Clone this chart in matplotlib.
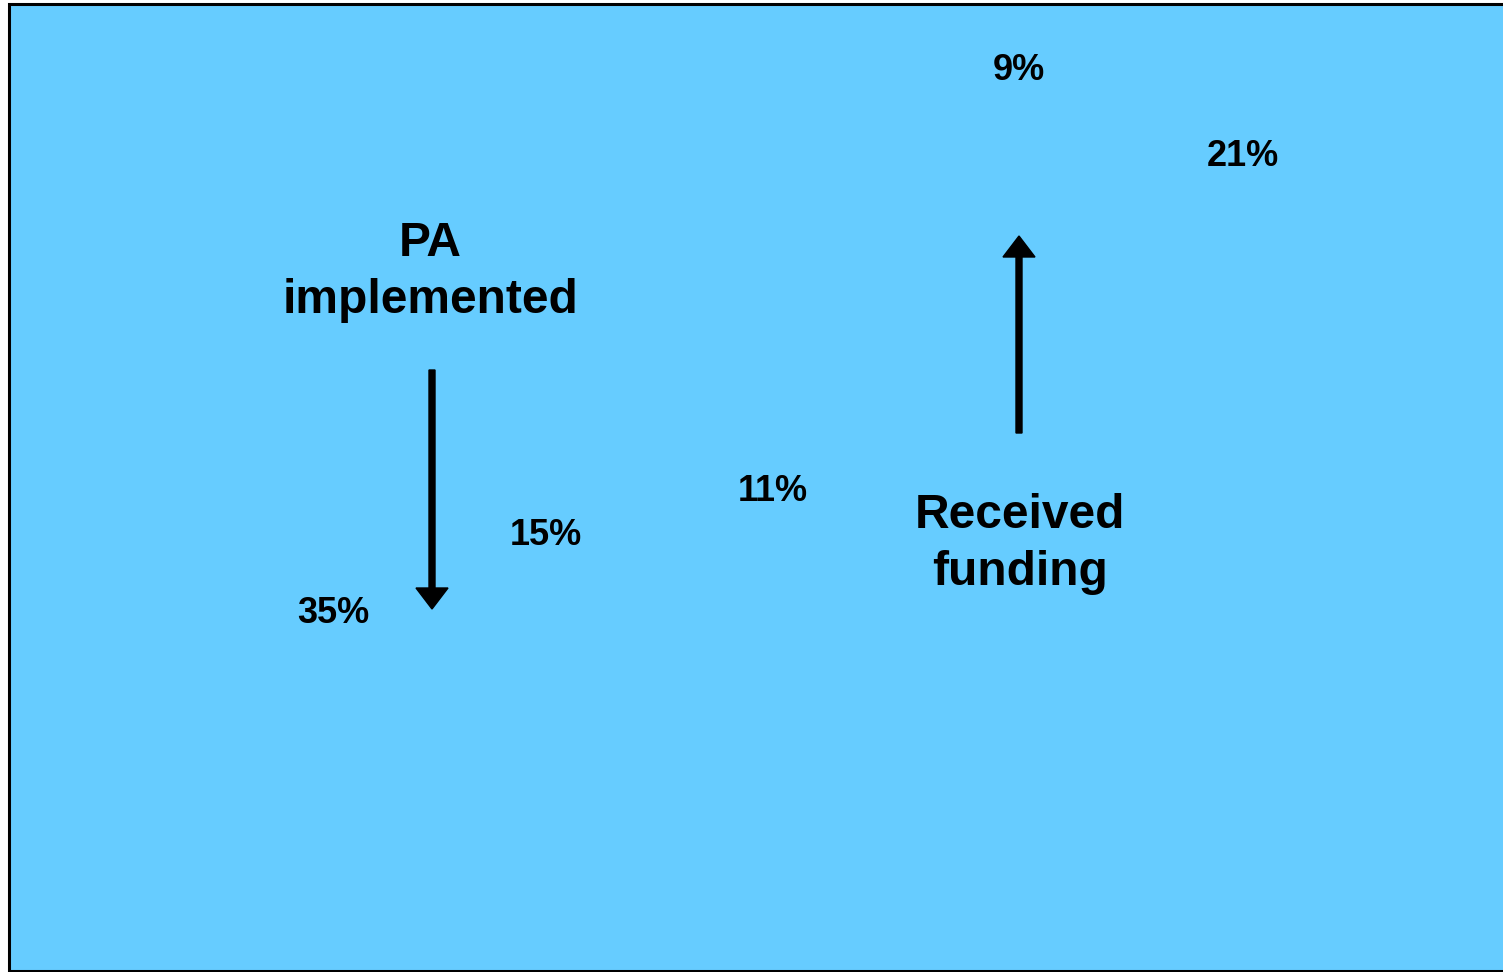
import matplotlib.pyplot as plt
from matplotlib.patches import Rectangle

plt.rcParams['font.family'] = ['Liberation Sans', 'DejaVu Sans']

# percentage labels and where they sit (pixel coords of the picture)
pct_labels = ["9%", "21%", "15%", "11%", "35%"]
pct_x = [1019, 1243, 546, 773, 333]
pct_y = [70, 157, 535, 491, 613]

# group titles
titles = ["PA\nimplemented", "Received\nfunding"]
title_x = [430, 1020]
title_y = [272, 544]

# arrows: (x, y start, y end)
arrow_x = [432, 1019]
arrow_y0 = [370, 433]
arrow_y1 = [609, 236]

BG = "#66CCFF"


def main():
    fig = plt.figure(figsize=(15.03, 9.72), dpi=100)
    ax = fig.add_axes([0, 0, 1, 1])
    ax.set_xlim(0, 1503)
    ax.set_ylim(972, 0)
    ax.axis("off")

    ax.add_patch(Rectangle((8.5, 4.5), 1510, 966, facecolor=BG,
                           edgecolor="black", lw=2.2, clip_on=False))

    for t, x, y in zip(pct_labels, pct_x, pct_y):
        ax.text(x, y, t, fontsize=26, fontweight="bold",
                ha="center", va="center")

    for t, x, y in zip(titles, title_x, title_y):
        ax.text(x, y, t, fontsize=34.5, fontweight="bold",
                ha="center", va="center", linespacing=1.32)

    for x, y0, y1 in zip(arrow_x, arrow_y0, arrow_y1):
        ax.arrow(x, y0, 0, y1 - y0, width=6, head_width=32,
                 head_length=21, length_includes_head=True,
                 color="black")

    fig.savefig("out.png", dpi=100, facecolor="white")


if __name__ == "__main__":
    main()
